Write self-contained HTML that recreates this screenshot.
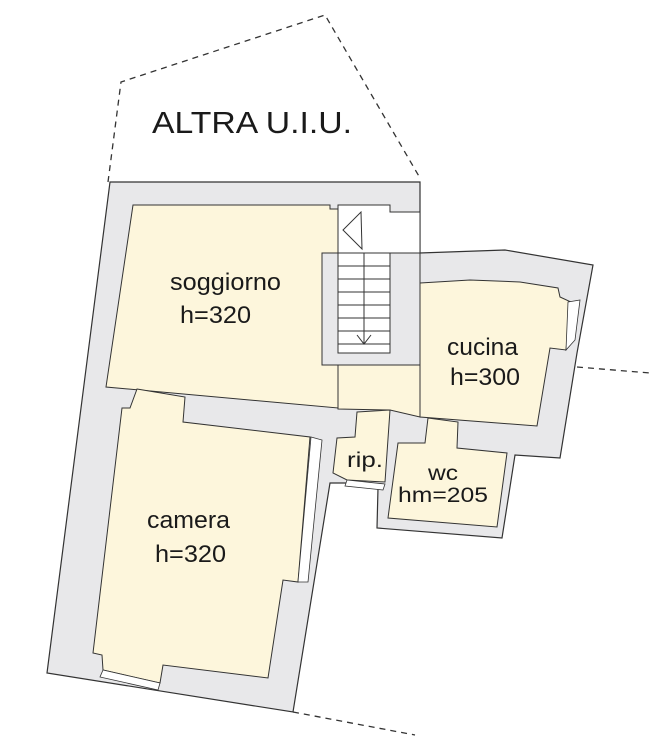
<!DOCTYPE html>
<html><head><meta charset="utf-8"><style>
html,body{margin:0;padding:0;background:#fff;}
svg{display:block;}
text{font-family:"Liberation Sans",sans-serif;fill:#1a1a1a;}
</style></head><body>
<svg width="650" height="736" viewBox="0 0 650 736" xmlns="http://www.w3.org/2000/svg">
<g fill="none" stroke="#333" stroke-width="1.3" stroke-dasharray="6,5">
<polyline points="108,182 121,82 325,15 420,178"/>
<polyline points="577,367 650,373"/>
<polyline points="293,712 415,735"/>
</g>
<polygon fill="#e8e8ea" stroke="#333" stroke-width="1.2" points="110,182 420,182 420,253 505,250 593,265 577,353 560,458 515,455 502,538 377,528 378,488 347,483 330,483 293,712 47,673"/>
<polygon fill="#fff" stroke="#333" stroke-width="1" points="338,205 390,205 390,212 420,212 420,253 338,253"/>
<polygon fill="#fdf6dc" stroke="#333" stroke-width="1" points="133,205 330,205 330,209 338,209 338,408 106,387"/>
<polygon fill="#fdf6dc" stroke="#333" stroke-width="1" points="338,361 390,361 390,365 420,365 420,417 390,410 338,409"/>
<polygon fill="#fdf6dc" stroke="#333" stroke-width="1" points="420,283 470,280 520,282 558,288 560,297 571,302 566,350 550,348 537,426 420,417"/>
<polygon fill="#fdf6dc" stroke="#333" stroke-width="1" points="357,412 390,410 385,482 347,480 333,473 337,438 355,437"/>
<polygon fill="#fdf6dc" stroke="#333" stroke-width="1" points="428,418 458,422 457,448 507,453 497,527 388,518 398,443 425,443"/>
<polygon fill="#fdf6dc" stroke="#333" stroke-width="1" points="137,389 185,397 183,422 310,437 298,582 283,580 268,678 163,665 160,683 103,670 102,655 93,653 122,408 130,408"/>
<rect x="322" y="253" width="98" height="112" fill="#e8e8ea" stroke="#333" stroke-width="1"/>
<rect x="338" y="253" width="52" height="100" fill="#fff" stroke="#333" stroke-width="1"/>
<g stroke="#333" stroke-width="1">
<line x1="338" y1="266" x2="390" y2="266"/><line x1="338" y1="279" x2="390" y2="279"/>
<line x1="338" y1="292" x2="390" y2="292"/><line x1="338" y1="305" x2="390" y2="305"/>
<line x1="338" y1="318" x2="390" y2="318"/><line x1="338" y1="331" x2="390" y2="331"/>
<line x1="338" y1="344" x2="390" y2="344"/>
<line x1="364" y1="253" x2="364" y2="344"/>
<polyline fill="none" points="357,335 364,344 371,335"/>
</g>
<polygon fill="none" stroke="#333" stroke-width="1" points="361,212 362,249 343,230"/>
<g stroke="#333" stroke-width="0.8" fill="#fff">
<polygon points="311,437 322,440 308,582 298,582"/>
<polygon points="103,670 160,683 158,690 100,677"/>
<polygon points="568,302 580,300 575,340 566,350"/>
<polygon points="347,480 385,484 383,490 345,486"/>
</g>
<text x="152" y="133" font-size="31" textLength="200" lengthAdjust="spacingAndGlyphs">ALTRA U.I.U.</text>
<text x="170" y="290" font-size="24" textLength="111" lengthAdjust="spacingAndGlyphs">soggiorno</text>
<text x="180" y="323" font-size="24" textLength="71" lengthAdjust="spacingAndGlyphs">h=320</text>
<text x="447" y="355" font-size="24" textLength="71" lengthAdjust="spacingAndGlyphs">cucina</text>
<text x="450" y="385" font-size="24" textLength="70" lengthAdjust="spacingAndGlyphs">h=300</text>
<text x="347" y="467" font-size="21" textLength="36" lengthAdjust="spacingAndGlyphs">rip.</text>
<text x="428" y="480" font-size="21" textLength="30" lengthAdjust="spacingAndGlyphs">wc</text>
<text x="398" y="502" font-size="21" textLength="90" lengthAdjust="spacingAndGlyphs">hm=205</text>
<text x="147" y="528" font-size="24" textLength="83" lengthAdjust="spacingAndGlyphs">camera</text>
<text x="155" y="562" font-size="24" textLength="71" lengthAdjust="spacingAndGlyphs">h=320</text>
</svg>
</body></html>
